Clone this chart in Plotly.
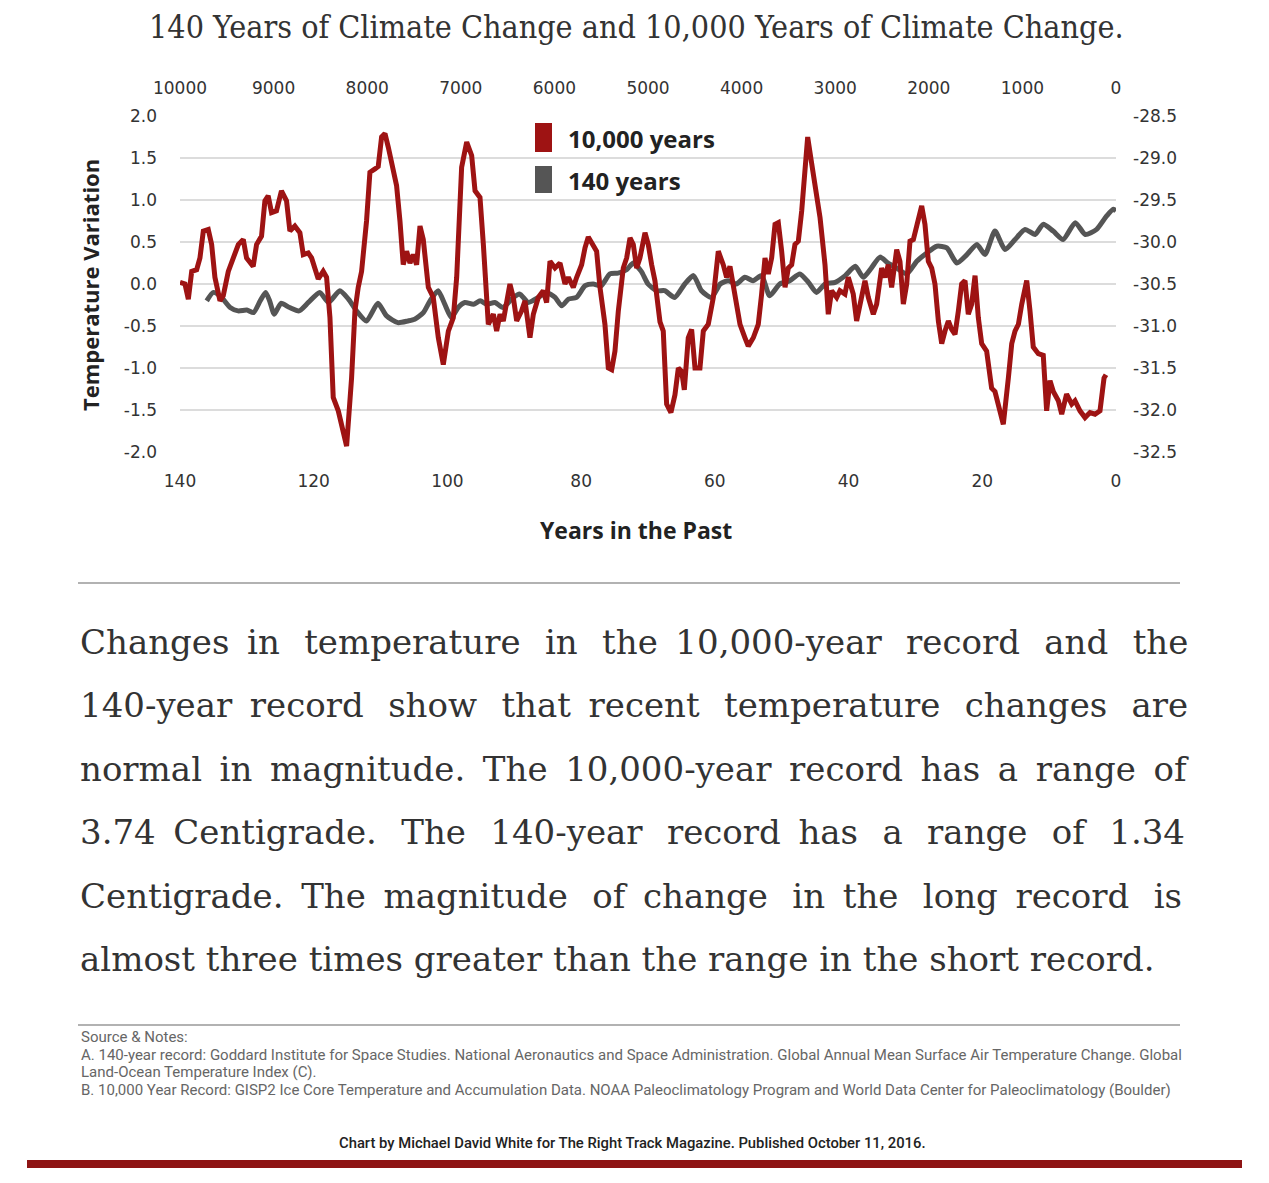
import plotly.graph_objects as go

# ---------------- data ----------------
# 10,000-year record (GISP2), years before present (top axis) and temperature (right axis)
red_bp = [10000, 9947, 9911, 9875, 9822, 9787, 9751, 9698, 9662, 9627, 9573, 9538, 9484, 9431, 9377, 9324,
          9289, 9218, 9182, 9129, 9093, 9058, 9022, 8969, 8916, 8862, 8826, 8773, 8719, 8683, 8630, 8594,
          8559, 8523, 8470, 8434, 8398, 8363, 8309, 8220, 8167, 8131, 8096, 8060, 8007, 7971, 7917, 7882,
          7846, 7810, 7775, 7722, 7686, 7650, 7615, 7579, 7543, 7508, 7472, 7436, 7401, 7347, 7294, 7240,
          7187, 7133, 7080, 7044, 6991, 6937, 6884, 6848, 6795, 6759, 6724, 6706, 6652, 6617, 6581, 6546,
          6475, 6439, 6403, 6350, 6314, 6261, 6225, 6172, 6119, 6083, 6047, 5994, 5940, 5887, 5851, 5798,
          5762, 5709, 5673, 5638, 5602, 5549, 5513, 5460, 5424, 5388, 5353, 5317, 5264, 5228, 5192, 5157,
          5121, 5086, 5032, 4997, 4961, 4926, 4872, 4837, 4801, 4755, 4712, 4676, 4640, 4612, 4570, 4534,
          4498, 4445, 4409, 4356, 4302, 4249, 4196, 4160, 4124, 4071, 4017, 3964, 3929, 3875, 3822, 3786,
          3750, 3715, 3679, 3643, 3608, 3572, 3536, 3501, 3465, 3430, 3394, 3358, 3323, 3294, 3259, 3198,
          3162, 3109, 3074, 3038, 2984, 2949, 2896, 2860, 2807, 2771, 2717, 2682, 2646, 2593, 2557, 2504,
          2468, 2433, 2397, 2343, 2308, 2272, 2236, 2201, 2165, 2129, 2076, 2041, 2005, 1969, 1934, 1898,
          1862, 1827, 1791, 1756, 1720, 1684, 1649, 1613, 1578, 1542, 1506, 1471, 1435, 1382, 1329, 1293,
          1239, 1204, 1150, 1114, 1079, 1043, 1007, 954, 919, 884, 830, 777, 741, 705, 670, 616,
          580, 528, 473, 438, 385, 331, 278, 224, 171, 153, 128, 107]
red_temp = [-30.48, -30.50, -30.68, -30.35, -30.33, -30.19, -29.87, -29.85, -30.03, -30.42, -30.70, -30.64, -30.35, -30.19, -30.03, -29.97,
            -30.19, -30.29, -30.03, -29.93, -29.51, -29.45, -29.65, -29.63, -29.39, -29.51, -29.87, -29.81, -29.89, -30.15, -30.13, -30.19,
            -30.31, -30.44, -30.35, -30.42, -30.90, -31.85, -32.01, -32.43, -31.62, -30.82, -30.54, -30.35, -29.75, -29.17, -29.13, -29.10,
            -28.75, -28.71, -28.87, -29.19, -29.33, -29.75, -30.27, -30.11, -30.25, -30.15, -30.27, -29.81, -29.97, -30.54, -30.66, -31.14,
            -31.46, -31.06, -30.90, -30.42, -29.11, -28.81, -28.97, -29.39, -29.47, -30.03, -30.70, -30.98, -30.86, -31.06, -30.86, -30.94,
            -30.50, -30.66, -30.94, -30.82, -30.70, -31.14, -30.86, -30.66, -30.58, -30.72, -30.23, -30.31, -30.25, -30.50, -30.42, -30.54,
            -30.42, -30.27, -30.07, -29.94, -30.01, -30.11, -30.54, -30.98, -31.50, -31.52, -31.30, -30.82, -30.31, -30.19, -29.95, -30.03,
            -30.31, -30.19, -29.89, -30.03, -30.27, -30.46, -30.95, -31.06, -31.93, -32.03, -31.82, -31.50, -31.54, -31.76, -31.14, -31.04,
            -31.50, -31.50, -31.06, -30.98, -30.66, -30.11, -30.27, -30.42, -30.29, -30.62, -30.98, -31.14, -31.24, -31.14, -30.98, -30.62,
            -30.19, -30.38, -30.19, -29.79, -29.77, -30.11, -30.54, -30.31, -30.27, -30.03, -29.99, -29.63, -29.11, -28.75, -29.01, -29.47,
            -29.71, -30.27, -30.86, -30.58, -30.66, -30.58, -30.62, -30.42, -30.62, -30.94, -30.66, -30.46, -30.66, -30.86, -30.74, -30.31,
            -30.42, -30.27, -30.54, -30.09, -30.23, -30.74, -30.50, -29.99, -29.97, -29.83, -29.57, -29.79, -30.23, -30.31, -30.50, -30.94,
            -31.21, -31.06, -30.94, -31.04, -31.10, -30.82, -30.50, -30.46, -30.86, -30.74, -30.40, -30.90, -31.21, -31.30, -31.74, -31.78,
            -32.01, -32.17, -31.62, -31.21, -31.06, -30.98, -30.74, -30.46, -30.82, -31.25, -31.33, -31.35, -32.01, -31.65, -31.78, -31.89,
            -32.05, -31.81, -31.93, -31.89, -32.01, -32.09, -32.03, -32.05, -32.01, -31.81, -31.62, -31.58]

# 140-year record (GISS), years in the past (bottom axis) and temperature variation (left axis)
grey_year = [136.0, 135.0, 133.8, 132.5, 131.3, 130.0, 129.0, 128.0, 127.2, 126.6, 125.9, 124.9, 123.6, 122.2, 120.8, 119.1,
             117.8, 116.1, 114.8, 113.6, 112.1, 110.4, 109.1, 107.4, 105.9, 104.9, 103.6, 102.6, 101.4, 100.4, 99.4, 98.4,
             97.4, 96.1, 95.1, 94.1, 92.9, 91.7, 90.4, 89.2, 87.9, 86.4, 85.2, 83.9, 82.9, 81.9, 80.7, 79.4,
             78.2, 77.0, 75.7, 74.5, 73.2, 72.2, 71.0, 70.0, 68.7, 67.5, 66.0, 64.5, 63.2, 62.0, 60.5, 59.2,
             58.0, 56.8, 55.5, 54.3, 53.0, 51.8, 50.3, 48.8, 47.3, 46.0, 44.8, 43.5, 42.0, 40.5, 39.0, 37.8,
             36.6, 35.3, 34.1, 33.0, 31.3, 29.8, 28.3, 26.8, 25.3, 23.8, 22.3, 20.8, 19.6, 18.1, 16.6, 15.1,
             13.6, 12.1, 10.9, 9.4, 7.9, 6.1, 4.6, 2.9, 1.4, 0.4, 0.0]
grey_temp = [-0.20, -0.10, -0.16, -0.28, -0.32, -0.31, -0.34, -0.20, -0.10, -0.20, -0.36, -0.23, -0.28, -0.32, -0.22, -0.10,
             -0.22, -0.08, -0.18, -0.32, -0.44, -0.23, -0.38, -0.46, -0.44, -0.42, -0.34, -0.20, -0.08, -0.24, -0.40, -0.28,
             -0.22, -0.24, -0.20, -0.24, -0.22, -0.28, -0.18, -0.12, -0.22, -0.16, -0.10, -0.16, -0.26, -0.18, -0.16, -0.02,
             0.00, -0.02, 0.12, 0.13, 0.17, 0.25, 0.15, 0.00, -0.08, -0.08, -0.16, 0.00, 0.10, -0.08, -0.16, 0.00,
             0.04, 0.00, 0.08, 0.04, 0.10, -0.14, 0.00, 0.04, 0.12, 0.02, -0.10, 0.00, 0.02, 0.10, 0.21, 0.08,
             0.19, 0.32, 0.25, 0.20, 0.12, 0.27, 0.37, 0.45, 0.43, 0.25, 0.35, 0.47, 0.35, 0.63, 0.41, 0.53,
             0.65, 0.59, 0.71, 0.63, 0.53, 0.73, 0.59, 0.65, 0.81, 0.89, 0.87]

series_names = ["10,000 years", "140 years"]
series_colors = ["#9e1313", "#555555"]

bottom_ticks = [140, 120, 100, 80, 60, 40, 20, 0]
top_ticks = [10000, 9000, 8000, 7000, 6000, 5000, 4000, 3000, 2000, 1000, 0]
top_labels = ["10000", "9000", "8000", "7000", "6000", "5000", "4000", "3000", "2000", "1000", "0"]
left_ticks = [2.0, 1.5, 1.0, 0.5, 0.0, -0.5, -1.0, -1.5, -2.0]
left_labels = ["2.0", "1.5", "1.0", "0.5", "0.0", "-0.5", "-1.0", "-1.5", "-2.0"]
right_ticks = [-28.5, -29.0, -29.5, -30.0, -30.5, -31.0, -31.5, -32.0, -32.5]
right_labels = ["-28.5", "-29.0", "-29.5", "-30.0", "-30.5", "-31.0", "-31.5", "-32.0", "-32.5"]

title_text = "140 Years of Climate Change and 10,000 Years of Climate Change."
para_lines = [
    "Changes in temperature in the 10,000-year record and the",
    "140-year record show that recent temperature changes are",
    "normal in magnitude. The 10,000-year record has a range of",
    "3.74 Centigrade. The 140-year record has a range of 1.34",
    "Centigrade. The magnitude of change in the long record is",
    "almost three times greater than the range in the short record.",
]
notes_lines = [
    "Source & Notes:",
    "A. 140-year record: Goddard Institute for Space Studies. National Aeronautics and Space Administration. Global Annual Mean Surface Air Temperature Change. Global",
    "Land-Ocean Temperature Index (C).",
    "B. 10,000 Year Record: GISP2 Ice Core Temperature and Accumulation Data. NOAA Paleoclimatology Program and World Data Center for Paleoclimatology (Boulder)",
]
credit_text = "Chart by Michael David White for The Right Track Magazine. Published October 11, 2016."

# ---------------- layout helpers ----------------
# page body has an 8px margin, so the figure is drawn 8px smaller and everything is offset by 8px
OFF = 8
W, H = 1269 - 2 * OFF, 1183 - 2 * OFF
L, R, T, B = 180, 1116, 116, 452   # plot area in page pixels


def px(x):
    return (x - L) / (R - L)


def py(y):
    return (B - y) / (B - T)


# extra thin spaces per paragraph line to imitate justified text (last line is not justified)
JUSTIFY_EXTRA = [14, 12, 9, 16, 13, 0]
THIN = "\u2009"


def justify(line, extra):
    words = line.split(" ")
    gaps = len(words) - 1
    if extra <= 0 or gaps <= 0:
        return line
    out = words[0]
    for g in range(gaps):
        n = (extra * (g + 1)) // gaps - (extra * g) // gaps
        out += " " + THIN * n + words[g + 1]
    return out


tick_font = dict(family="DejaVu Sans, sans-serif", size=17, color="#333333")
bold_sans = "Open Sans, sans-serif"

fig = go.Figure()
fig.add_trace(go.Scatter(x=grey_year, y=grey_temp, mode="lines", name=series_names[1],
                         line=dict(color=series_colors[1], width=5, shape="spline", smoothing=0.6),
                         xaxis="x", yaxis="y", showlegend=False))
fig.add_trace(go.Scatter(x=red_bp, y=red_temp, mode="lines", name=series_names[0],
                         line=dict(color=series_colors[0], width=5),
                         xaxis="x2", yaxis="y2", showlegend=False))

fig.update_layout(
    width=W, height=H,
    margin=dict(l=L - OFF, r=W - (R - OFF), t=T - OFF, b=H - (B - OFF), pad=0),
    paper_bgcolor="white", plot_bgcolor="white",
    xaxis=dict(range=[140, 0], tickvals=bottom_ticks, showgrid=False, zeroline=False, showline=False,
               ticks="", tickfont=tick_font, ticklabelstandoff=17),
    xaxis2=dict(range=[10000, 0], tickvals=top_ticks, ticktext=top_labels, overlaying="x", side="top",
                anchor="y", showgrid=False, zeroline=False, showline=False, ticks="", tickfont=tick_font,
                ticklabelstandoff=18),
    yaxis=dict(range=[-2, 2], tickvals=left_ticks, ticktext=left_labels, showgrid=True,
               gridcolor="#dcdcdc", gridwidth=2, zeroline=False, showline=False, ticks="",
               tickfont=tick_font, ticklabelstandoff=22),
    yaxis2=dict(range=[-32.5, -28.5], tickvals=right_ticks, ticktext=right_labels, overlaying="y",
                side="right", anchor="x", showgrid=False, zeroline=False, showline=False, ticks="",
                tickfont=tick_font, ticklabelstandoff=16),
    showlegend=False,
)

serif = "DejaVu Serif, Liberation Serif, serif"
ann = []
shapes = []

# title
ann.append(dict(text=title_text, x=px(636), y=py(27), xref="paper", yref="paper", showarrow=False,
                xanchor="center", yanchor="middle",
                font=dict(family="DejaVu Serif Condensed, Liberation Serif, serif", size=32, color="#333333")))
# axis titles
ann.append(dict(text="Temperature Variation", x=px(90), y=py(285), xref="paper", yref="paper",
                showarrow=False, textangle=-90, xanchor="center", yanchor="middle",
                font=dict(family=bold_sans, size=22, color="#222222", weight=700)))
ann.append(dict(text="Years in the Past", x=px(636), y=py(530), xref="paper", yref="paper",
                showarrow=False, xanchor="center", yanchor="middle",
                font=dict(family=bold_sans, size=23, color="#222222", weight=700)))

# legend
leg_rows = [(123, 152, 138), (166, 193, 180)]
for (y0, y1, yc), name, col in zip(leg_rows, series_names, series_colors):
    shapes.append(dict(type="rect", xref="paper", yref="paper", x0=px(535), x1=px(552), y0=py(y1), y1=py(y0),
                       fillcolor=col, line=dict(width=0)))
    ann.append(dict(text=name, x=px(566), y=py(yc), xref="paper", yref="paper", showarrow=False,
                    xanchor="left", yanchor="middle",
                    font=dict(family=bold_sans, size=24, color="#222222", weight=700)))

# separators
for yy in (583, 1025):
    shapes.append(dict(type="line", xref="paper", yref="paper", x0=px(78), x1=px(1180), y0=py(yy), y1=py(yy),
                       line=dict(color="#999999", width=1.5)))

# paragraph
for i, line in enumerate(para_lines):
    ann.append(dict(text=justify(line, JUSTIFY_EXTRA[i]), x=px(78), y=py(642 + i * 63.4), xref="paper",
                    yref="paper", showarrow=False, xanchor="left", yanchor="middle",
                    font=dict(family=serif, size=34, color="#333333")))

# notes
notes_y = [1037, 1055, 1072, 1090]
for yy, line in zip(notes_y, notes_lines):
    ann.append(dict(text=line, x=px(79), y=py(yy), xref="paper", yref="paper", showarrow=False,
                    xanchor="left", yanchor="middle",
                    font=dict(family="Roboto, sans-serif", size=15, color="#666666")))

# credit
ann.append(dict(text=credit_text, x=px(632), y=py(1143), xref="paper", yref="paper", showarrow=False,
                xanchor="center", yanchor="middle",
                font=dict(family="Roboto, sans-serif", size=14.8, color="#222222", weight=500)))
shapes.append(dict(type="rect", xref="paper", yref="paper", x0=px(27), x1=px(1242), y0=py(1168), y1=py(1160),
                   fillcolor="#8e1414", line=dict(width=0)))

fig.update_layout(annotations=ann, shapes=shapes)
fig.write_html("out.html")
